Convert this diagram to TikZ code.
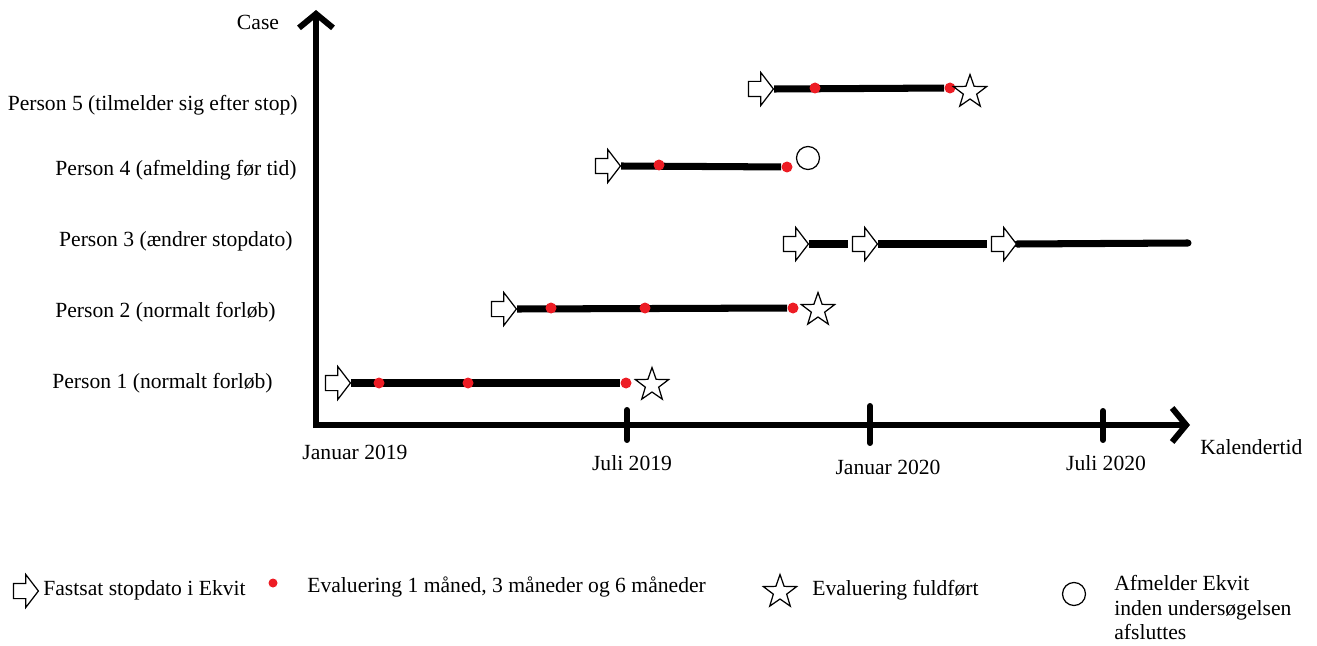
\documentclass[tikz,border=0pt]{standalone}
\usepackage{fontspec}
\setmainfont{Liberation Serif}
\usetikzlibrary{arrows.meta,shapes.arrows,shapes.geometric}
\pgfdeclarelayer{bg}
\pgfsetlayers{bg,main}
\definecolor{evalred}{RGB}{237,28,36}
\tikzset{
  stopmark/.style={single arrow,draw,line width=0.7pt,fill=white,minimum height=0.5cm,inner xsep=0pt,inner ysep=0.14cm,single arrow head extend=0.18cm,single arrow tip angle=105},
  evaldot/.style={circle,fill=evalred,inner sep=0pt,minimum size=0.22cm},
  donestar/.style={star,star points=5,star point ratio=2.5,draw,line width=0.7pt,fill=white,inner sep=0pt,minimum size=0.7cm},
  quitmark/.style={circle,draw,line width=0.7pt,inner sep=0pt,minimum size=0.46cm},
  timeline/.style={line width=4pt},
  axisline/.style={line width=3.4pt,-{Straight Barb[length=0.28cm,width=0.68cm]}},
  datetick/.style={line width=3.4pt,line cap=round},
  lbl/.style={font=\fontsize{12.3}{14}\selectfont,inner sep=0pt}
}

\begin{document}
\begin{tikzpicture}[x=0.02cm,y=-0.02cm]
\useasboundingbox (0,0) rectangle (1317,645);
% axes
\coordinate (o) at (316,425);
\coordinate (ytop) at (316,10);
\coordinate (xend) at (1190,425);
\draw[axisline] (316,428) -- (ytop);
\draw[axisline] (o) -- (xend);
\node[lbl] (case) at (258,22) {Case};
\node[lbl,anchor=west] (kal) at (1200,447) {Kalendertid};
\node[lbl] (jan19) at (355,452) {Januar 2019};
\foreach \x/\y/\z in {627/410/440,870/406/443,1103/411/440} {
  \draw[datetick] (\x,\y) -- (\x,\z);
}
\node[lbl] (jul19) at (632,463) {Juli 2019};
\node[lbl] (jan20) at (888,467) {Januar 2020};
\node[lbl] (jul20) at (1106,463) {Juli 2020};

% cases
\node[lbl,anchor=east] (p5) at (298,105) {Person 5 (tilmelder sig efter stop)};
\node[lbl,anchor=east] (p4) at (297,170) {Person 4 (afmelding før tid)};
\node[lbl,anchor=east] (p3) at (293,241) {Person 3 (ændrer stopdato)};
\node[lbl,anchor=east] (p2) at (276,312) {Person 2 (normalt forløb)};
\node[lbl,anchor=east] (p1) at (273,383) {Person 1 (normalt forløb)};

% person 1
\node[stopmark] (s1) at (335,383) {};
\node[evaldot] (e1a) at (379,383) {};
\node[evaldot] (e1b) at (468,383) {};
\node[evaldot] (e1c) at (626,383) {};
\node[donestar] (d1) at (652,385) {};
% person 2
\node[stopmark] (s2) at (501,309) {};
\node[evaldot] (e2a) at (551,308) {};
\node[evaldot] (e2b) at (645,308) {};
\node[evaldot] (e2c) at (793,308) {};
\node[donestar] (d2) at (818,310) {};
% person 3
\node[stopmark] (s3a) at (793,244) {};
\node[stopmark] (s3b) at (862,244) {};
\node[stopmark] (s3c) at (1001,244) {};
\coordinate (e3) at (1188,243);
% person 4
\node[stopmark] (s4) at (605,166) {};
\node[evaldot] (e4a) at (659,165) {};
\node[evaldot] (e4b) at (787,167) {};
\node[quitmark] (q4) at (808,158) {};
% person 5
\node[stopmark] (s5) at (758,89) {};
\node[evaldot] (e5a) at (815,88) {};
\node[evaldot] (e5b) at (950,88) {};
\node[donestar] (d5) at (970,92) {};

\begin{pgfonlayer}{bg}
\draw[timeline] (s1.east) -- (e1c);
\draw[timeline] (s2.east) -- (e2c);
\draw[timeline,shorten >=0.08cm] (s3a.east) -- (s3b.west);
\draw[timeline,shorten >=0.08cm] (s3b.east) -- (s3c.west);
\draw[timeline,line cap=round] (s3c.east) -- (e3);
\draw[timeline] (s4.east) -- (e4b);
\draw[timeline] (s5.east) -- (e5b);
\end{pgfonlayer}

% legend
\node[stopmark] (ls) at (23,591) {};
\node[lbl,anchor=west] (lst) at (43,590) {Fastsat stopdato i Ekvit};
\node[evaldot,minimum size=0.18cm] (le) at (273,583) {};
\node[lbl,anchor=west] (let) at (307,587) {Evaluering 1 måned, 3 måneder og 6 måneder};
\node[donestar] (ld) at (780,592) {};
\node[lbl,anchor=west] (ldt) at (812,590) {Evaluering fuldført};
\node[quitmark] (lq) at (1074,594) {};
\node[lbl,anchor=north west,align=left] (lqt) at (1114,575) {Afmelder Ekvit\\inden undersøgelsen\\afsluttes};
\end{tikzpicture}
\end{document}
